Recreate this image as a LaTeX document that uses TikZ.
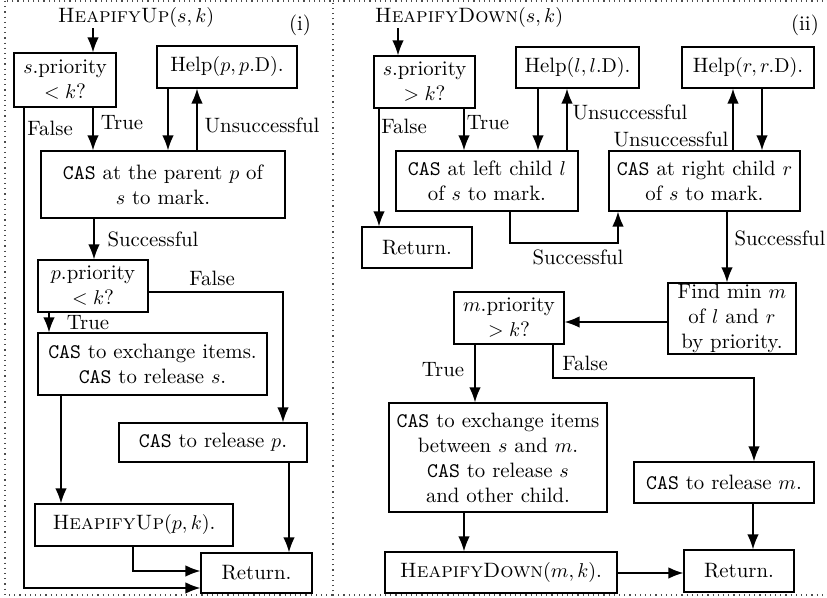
\documentclass[tikz,border=0pt]{standalone}
\usetikzlibrary{arrows.meta}
\begin{document}
\begin{tikzpicture}[x=0.5pt,y=-0.5pt,
  every node/.style={font=\fontsize{10.4}{12.5}\selectfont},
  box/.style={draw,line width=0.65pt,inner sep=0pt,align=center},
  arr/.style={line width=0.75pt,-{Latex[length=7.5pt,width=5.8pt]}},
  lbl/.style={inner sep=0pt},
  frame/.style={dotted,line width=0.6pt,black!70}]
\useasboundingbox (0,0) rectangle (827,598);
% frames
\draw[frame] (5,1) rectangle (333,595);
\draw[frame] (333,1) -- (828,1);
\draw[frame] (333,595) -- (828,595);

% ---------- left panel ----------
\node[lbl] (tU) at (136,18) {\textsc{HeapifyUp}$(s,k)$};
\node[lbl] (i) at (300,25) {(i)};
\node[box,minimum width=51pt,minimum height=27pt] (sp) at (65,80) {$s$.priority\\$<k$?};
\node[box,minimum width=70pt,minimum height=21pt] (helpp) at (227,67) {Help$(p,p.\mathrm{D})$.};
\node[box,minimum width=122pt,minimum height=33.5pt] (casp) at (163,184.5) {\texttt{CAS} at the parent $p$ of\\$s$ to mark.};
\node[box,minimum width=55pt,minimum height=26pt] (pp) at (93,286) {$p$.priority\\$<k$?};
\node[box,minimum width=114.5pt,minimum height=31pt] (exch) at (152.5,364) {\texttt{CAS} to exchange items.\\\texttt{CAS} to release $s$.};
\node[box,minimum width=94pt,minimum height=19.5pt] (relp) at (213,442.5) {\texttt{CAS} to release $p$.};
\node[box,minimum width=99pt,minimum height=21pt] (hup) at (134,525) {\textsc{HeapifyUp}$(p,k)$.};
\node[box,minimum width=55.5pt,minimum height=20pt] (retL) at (256.5,573) {Return.};

\coordinate (x93) at (93,0);
\coordinate (x94) at (94,0);
\coordinate (x168) at (168,0);
\coordinate (x197) at (197,0);
\coordinate (x49) at (49,0);
\coordinate (x61) at (61,0);
\coordinate (x289) at (289,0);
\coordinate (fL) at (24,588);
\coordinate (c2) at (283,292);
\coordinate (c3) at (133,571);

\draw[arr] (tU.south -| x93) -- (sp.north -| x93);
\draw[arr] (sp.south -| x93) -- (casp.north -| x93);
\draw[arr] (helpp.south -| x168) -- (casp.north -| x168);
\draw[arr] (casp.north -| x197) -- (helpp.south -| x197);
\draw[arr] (casp.south -| x94) -- (pp.north -| x94);
\draw[arr] (sp.south -| fL) -- (fL) -- (retL.west |- fL);
\draw[arr] (pp.east |- c2) -- (c2) -- (relp.north -| c2);
\draw[arr] (pp.south -| x49) -- (exch.north -| x49);
\draw[arr] (exch.south -| x61) -- (hup.north -| x61);
\draw[arr] (relp.south -| x289) -- (retL.north -| x289);
\draw[arr] (hup.south -| c3) -- (c3) -- (retL.west |- c3);

\node[lbl] at (122,123) {True};
\node[lbl] at (262,125) {Unsuccessful};
\node[lbl] at (50,128) {False};
\node[lbl] at (153,239) {Successful};
\node[lbl] at (212,278) {False};
\node[lbl] at (88,323) {True};

% ---------- right panel ----------
\node[lbl] (tD) at (469,18) {\textsc{HeapifyDown}$(s,k)$};
\node[lbl] (ii) at (805,25) {(ii)};
\node[box,minimum width=50.5pt,minimum height=26pt] (sd) at (424.5,82) {$s$.priority\\$>k$?};
\node[box,minimum width=55pt,minimum height=20.5pt] (retA) at (417,247.5) {Return.};
\node[box,minimum width=91pt,minimum height=30pt] (casl) at (487,181) {\texttt{CAS} at left child $l$\\of $s$ to mark.};
\node[box,minimum width=61.5pt,minimum height=20.5pt] (helpl) at (577.5,67.5) {Help$(l,l.\mathrm{D})$.};
\node[box,minimum width=95.5pt,minimum height=30pt] (casr) at (704.5,181) {\texttt{CAS} at right child $r$\\of $s$ to mark.};
\node[box,minimum width=66pt,minimum height=20.5pt] (helpr) at (748,67.5) {Help$(r,r.\mathrm{D})$.};
\node[box,minimum width=64pt,minimum height=35.5pt] (findm) at (732,318.5) {Find min $m$\\of $l$ and $r$\\by priority.};
\node[box,minimum width=55pt,minimum height=26pt] (mp) at (509,318) {$m$.priority\\$>k$?};
\node[box,minimum width=109pt,minimum height=54.5pt] (exd) at (498,457.5) {\texttt{CAS} to exchange items\\between $s$ and $m$.\\\texttt{CAS} to release $s$\\and other child.};
\node[box,minimum width=116pt,minimum height=20.5pt] (hdown) at (501,572.5) {\textsc{HeapifyDown}$(m,k)$.};
\node[box,minimum width=55pt,minimum height=21pt] (retB) at (739,571) {Return.};
\node[box,minimum width=90pt,minimum height=20.5pt] (relm) at (724,482.5) {\texttt{CAS} to release $m$.};

\coordinate (x398) at (398,0);
\coordinate (x379) at (379,0);
\coordinate (x464) at (464,0);
\coordinate (x538) at (538,0);
\coordinate (x567) at (567,0);
\coordinate (x733) at (733,0);
\coordinate (x762) at (762,0);
\coordinate (x727) at (727,0);
\coordinate (x475) at (475,0);
\coordinate (x753) at (753,0);
\coordinate (y322) at (0,322);
\coordinate (y573) at (0,573);
\coordinate (d1) at (510,243);
\coordinate (d2) at (618,243);
\coordinate (e1) at (553,378);
\coordinate (e2) at (754,378);

\draw[arr] (tD.south -| x398) -- (sd.north -| x398);
\draw[arr] (sd.south -| x379) -- (retA.north -| x379);
\draw[arr] (sd.south -| x464) -- (casl.north -| x464);
\draw[arr] (helpl.south -| x538) -- (casl.north -| x538);
\draw[arr] (casl.north -| x567) -- (helpl.south -| x567);
\draw[arr] (casl.south -| d1) -- (d1) -- (d2) -- (casr.south -| d2);
\draw[arr] (casr.north -| x733) -- (helpr.south -| x733);
\draw[arr] (helpr.south -| x762) -- (casr.north -| x762);
\draw[arr] (casr.south -| x727) -- (findm.north -| x727);
\draw[arr] (findm.west |- y322) -- (mp.east |- y322);
\draw[arr] (mp.south -| x475) -- (exd.north -| x475);
\draw[arr] (mp.south -| e1) -- (e1) -- (e2) -- (relm.north -| e2);
\draw[arr] (exd.south -| x464) -- (hdown.north -| x464);
\draw[arr] (hdown.east |- y573) -- (retB.west |- y573);
\draw[arr] (relm.south -| x753) -- (retB.north -| x753);

\node[lbl] at (404,126) {False};
\node[lbl] at (488,123) {True};
\node[lbl] at (630,112) {Unsuccessful};
\node[lbl] at (671,139) {Unsuccessful};
\node[lbl] at (578,257) {Successful};
\node[lbl] at (780,238) {Successful};
\node[lbl] at (443,370) {True};
\node[lbl] at (585,363) {False};
\end{tikzpicture}
\end{document}
